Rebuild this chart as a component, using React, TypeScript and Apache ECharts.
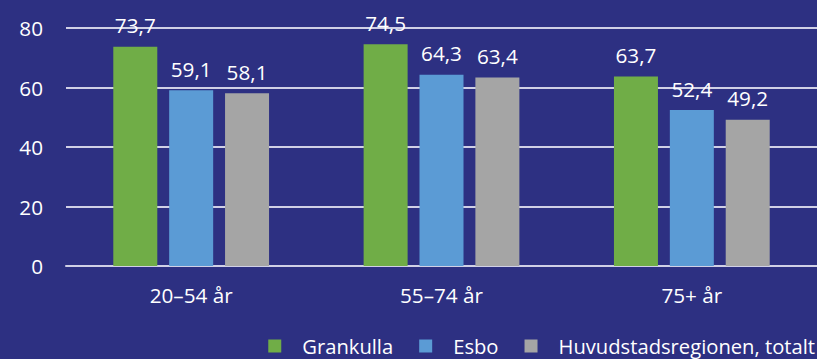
import React, { useEffect, useRef } from "react";
import * as echarts from "echarts";

const categories = ["20–54 år", "55–74 år", "75+ år"];
const seriesNames = ["Grankulla", "Esbo", "Huvudstadsregionen, totalt"];
const grankulla = [73.7, 74.5, 63.7];
const esbo = [59.1, 64.3, 52.4];
const huvudstad = [58.1, 63.4, 49.2];
const colors = ["#70AD47", "#5B9BD5", "#A5A5A5"];
const yTicks = { min: 0, max: 80, interval: 20 };

const FONT = "Open Sans";
const BG = "#2d3082";
const FS = 20.7;

export default function App() {
  const ref = useRef<HTMLDivElement>(null);
  useEffect(() => {
    if (!ref.current) return;
    const chart = echarts.init(ref.current, undefined, { renderer: "svg" });
    const values = [grankulla, esbo, huvudstad];
    chart.setOption({
      animation: false,
      backgroundColor: BG,
      textStyle: { fontFamily: FONT },
      grid: { left: 66, right: 0, top: 28, bottom: 93, containLabel: false },
      legend: {
        right: 2,
        bottom: 3,
        padding: 0,
        itemWidth: 13,
        itemHeight: 13,
        itemGap: 26,
        icon: "rect",
        textStyle: {
          color: "#ffffff",
          fontSize: 20.2,
          lineHeight: 20,
          fontFamily: FONT,
          padding: [0, 0, 0, 16],
        },
        data: seriesNames,
      },
      xAxis: {
        type: "category",
        data: categories,
        axisLine: { show: true, lineStyle: { color: "#d0d0e6", width: 2 } },
        axisTick: { show: false },
        axisLabel: { color: "#ffffff", fontSize: FS, fontFamily: FONT, margin: 18 },
      },
      yAxis: {
        type: "value",
        min: yTicks.min,
        max: yTicks.max,
        interval: yTicks.interval,
        axisLine: { show: false },
        axisTick: { show: false },
        axisLabel: { color: "#ffffff", fontSize: FS, fontFamily: FONT, margin: 23 },
        splitLine: { lineStyle: { color: "#d0d0e6", width: 2 } },
      },
      series: seriesNames.map((name, i) => ({
        name,
        type: "bar",
        data: values[i],
        barWidth: 44,
        barGap: "27%",
        itemStyle: { color: colors[i] },
        label: {
          show: true,
          position: "top",
          distance: 11,
          color: "#ffffff",
          fontSize: FS,
          fontFamily: FONT,
          formatter: (p: any) => String(p.value).replace(".", ","),
        },
      })),
    });
    return () => chart.dispose();
  }, []);
  return (
    <div
      ref={ref}
      style={{ position: "fixed", left: 0, top: 0, width: 817, height: 359 }}
    />
  );
}
